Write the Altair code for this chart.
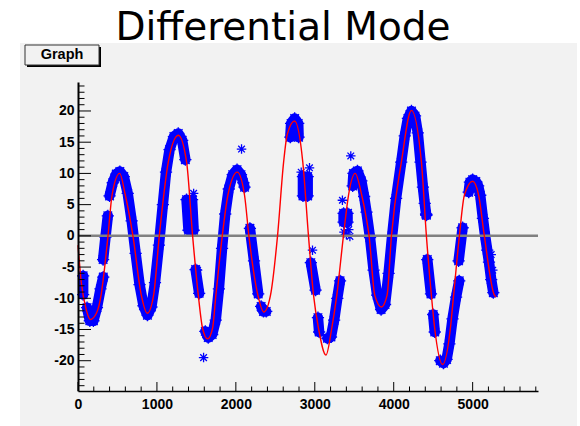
import altair as alt
import pandas as pd

# ---------------- data ----------------
title_text = "Differential Mode"
button_text = "Graph"

x_domain = [0, 5828]
y_domain = [-24.85, 24.64]
x_labels = [0, 1000, 2000, 3000, 4000, 5000]
y_labels = [-20, -15, -10, -5, 0, 5, 10, 15, 20]
x_minor = [200, 400, 600, 800, 1200, 1400, 1600, 1800, 2200, 2400, 2600, 2800,
           3200, 3400, 3600, 3800, 4200, 4400, 4600, 4800, 5200, 5400, 5600, 5800]
y_minor = [-24, -23, -22, -21, -19, -18, -17, -16, -14, -13, -12, -11, -9, -8, -7, -6,
           -4, -3, -2, -1, 1, 2, 3, 4, 6, 7, 8, 9, 11, 12, 13, 14, 16, 17, 18, 19,
           21, 22, 23, 24]

# red fit curve
red_x = [0, 43, 106, 155, 233, 296, 338, 380, 431, 528, 600, 696, 802, 878, 958, 1030,
         1144, 1271, 1376, 1452, 1524, 1578, 1642, 1705, 1747, 1828, 1899, 2018, 2110,
         2165, 2279, 2354, 2439, 2528, 2605, 2650, 2744, 2848, 2920, 2984, 3047, 3142,
         3215, 3279, 3363, 3427, 3511, 3595, 3654, 3688, 3760, 3844, 3916, 3971, 4097,
         4224, 4351, 4414, 4477, 4519, 4620, 4718, 4759, 4832, 4895, 5000, 5076, 5148,
         5275, 5296]
red_y = [-1.5, -7.6, -11.9, -13.4, -12.4, -9.2, -5.0, 0.0, 6.5, 10.0, 6.5, 0.0, -9.5, -12.4,
         -9.5, 0.0, 11.8, 16.1, 11.8, 0.0, -9.5, -14.8, -16.5, -14.8, -9.5, 0.0, 6.5, 10.2,
         6.5, 0.0, -9.5, -12.2, -9.5, 0.0, 11.8, 16.2, 18.4, 11.8, 0.0, -9.5, -14.8, -19.1,
         -14.8, -9.5, 0.0, 6.5, 10.0, 6.5, 2.8, 0.0, -9.5, -11.4, -9.5, 0.0, 11.8, 20.1,
         11.8, 0.0, -9.5, -14.8, -20.6, -14.8, -9.5, 0.0, 6.5, 8.75, 6.5, 0.0, -9.5, -9.8]

# blue measured data: centre line of each dense band of points
blue_seg = ([1] * 2 + [2] * 6 + [3] * 3 + [4] * 21 + [5] * 4 + [6] * 2 + [7] * 13 +
            [8] * 3 + [9] * 3 + [10] * 5 + [11] * 4 + [12] * 2 + [13] * 2 + [14] * 5 +
            [15] * 4 + [16] * 26 + [17] * 2 + [18] * 2 + [19] * 7 + [20] * 2 + [21] * 12)
blue_x = [65, 65,
          115, 150, 195, 240, 285, 320,
          318, 348, 378,
          400, 440, 485, 530, 580, 630, 680, 730, 780, 830, 880, 930, 975, 1025, 1075,
          1115, 1160, 1215, 1270, 1320, 1360,
          1375, 1400, 1465, 1445,
          1490, 1535,
          1613, 1650, 1700, 1745, 1785, 1825, 1865, 1910, 1960, 2015, 2065, 2095, 2110,
          2178, 2230, 2283,
          2320, 2350, 2385,
          2690, 2700, 2745, 2790, 2795,
          2850, 2850, 2910, 2910,
          2950, 3010,
          3040, 3055,
          3160, 3205, 3245, 3285, 3320,
          3365, 3365, 3415, 3415,
          3480, 3490, 3540, 3590, 3625, 3655, 3700, 3745, 3790, 3840, 3890, 3935, 3980,
          4030, 4095, 4140, 4180, 4225, 4270, 4305, 4340, 4370, 4393, 4410, 4412, 4413,
          4425, 4472,
          4500, 4520,
          4590, 4630, 4670, 4705, 4745, 4790, 4830,
          4822, 4873,
          4950, 4965, 5000, 5040, 5070, 5096, 5130, 5158, 5185, 5207, 5235, 5262]
blue_y = [-6.4, -9.4,
          -11.5, -13.6, -13.6, -11.5, -8.5, -6.6,
          -3.8, -0.2, 3.2,
          6.4, 8.5, 9.9, 10.3, 9.5, 6.8, 2.4, -2.8, -7.8, -11.2, -12.7, -11.4, -7.5, -1.5, 5.0,
          10.2, 13.8, 15.9, 16.4, 15.3, 12.2,
          5.8, 0.9, 0.9, 5.8,
          -5.4, -9.2,
          -15.3, -16.3, -15.8, -13.5, -8.5, -2.0, 3.5, 7.5, 9.8, 10.6, 9.8, 8.5, 7.8,
          1.2, -4.0, -9.3,
          -11.3, -12.1, -12.1,
          15.8, 18.0, 18.8, 18.0, 15.8,
          9.5, 6.4, 6.4, 9.5,
          -4.3, -8.7,
          -13.1, -15.4,
          -16.4, -16.2, -13.5, -10.0, -7.2,
          3.6, 2.2, 2.2, 3.6,
          8.0, 10.0, 10.4, 8.8, 6.3, 3.8, -0.3, -5.5, -9.5, -11.8, -11.0, -6.0, 0.0,
          6.0, 11.8, 16.0, 18.8, 20.0, 19.2, 16.5, 11.8, 7.8, 5.2, 3.5, 3.4, 3.3,
          -3.8, -9.3,
          -12.6, -15.4,
          -20.0, -20.4, -19.8, -17.3, -13.3, -9.8, -7.2,
          -4.0, 1.3,
          7.0, 8.6, 9.0, 8.7, 8.0, 6.5, 2.8, 0.0, -2.3, -4.2, -7.0, -9.1]

# isolated outlying points
out_x = [1465, 1515, 1591, 2072, 2828, 2933, 2971, 3350, 3456, 3370, 3400, 3430, 3445,
         5235, 5255]
out_y = [6.8, -5.5, -19.5, 13.9, 10.2, 10.9, -2.3, 5.7, 12.8, 0.6, 0.2, 1.0, -0.1,
         -3.0, -5.5]

# ---------------- tables ----------------
red_df = pd.DataFrame({"x": red_x, "y": red_y, "i": range(len(red_x))})
blue_df = pd.DataFrame({"x": blue_x, "y": blue_y, "seg": blue_seg,
                        "i": range(len(blue_x))})
out_df = pd.DataFrame({"x": out_x, "y": out_y})
xmaj_df = pd.DataFrame({"v": x_labels})
xmin_df = pd.DataFrame({"v": x_minor})
ymaj_df = pd.DataFrame({"v": y_labels})
ymin_df = pd.DataFrame({"v": y_minor})
zero_df = pd.DataFrame({"y": [0]})
one = alt.Data(values=[{"a": 1}])

# ---------------- styling ----------------
W, H = 460, 309
PAD = "#f2f2f2"
LABEL_FONT = "Liberation Sans"
AST = "M-1,0L1,0M0,-1L0,1M-0.7,-0.7L0.7,0.7M-0.7,0.7L0.7,-0.7"

xs = alt.Scale(domain=x_domain, nice=False, zero=False)
ys = alt.Scale(domain=y_domain, nice=False, zero=False)
xaxis = alt.Axis(values=x_labels, title=None, grid=False, ticks=False, tickSize=0,
                 domain=True, domainColor="black", domainWidth=1.5, zindex=2,
                 labelFont=LABEL_FONT, labelFontSize=14, labelFontWeight="bold",
                 labelColor="black", labelPadding=6, labelFlush=False,
                 labelExpr="'' + datum.value")
yaxis = alt.Axis(values=y_labels, title=None, grid=False, ticks=False, tickSize=0,
                 domain=True, domainColor="black", domainWidth=2, zindex=2,
                 labelFont=LABEL_FONT, labelFontSize=14, labelFontWeight="bold",
                 labelColor="black", labelPadding=4,
                 labelExpr="datum.value < 0 ? '-' + abs(datum.value) : '' + datum.value")


def X(f):
    return alt.X(f, type="quantitative", scale=xs, axis=xaxis)


def Y(f):
    return alt.Y(f, type="quantitative", scale=ys, axis=yaxis)


pad = alt.Chart(one).mark_rect(fill=PAD).encode(
    x=alt.value(-58), x2=alt.value(499), y=alt.value(-39), y2=alt.value(344))
title_mark = alt.Chart(one).mark_text(
    text=title_text, font="DejaVu Sans", fontSize=39, fontWeight="normal",
    align="center", baseline="alphabetic", color="black").encode(
    x=alt.value(205), y=alt.value(-42))
shadow = alt.Chart(one).mark_rect(fill="black").encode(
    x=alt.value(-51), x2=alt.value(23), y=alt.value(-35), y2=alt.value(-15))
button = alt.Chart(one).mark_rect(fill=PAD, stroke="#333333", strokeWidth=1).encode(
    x=alt.value(-53), x2=alt.value(21), y=alt.value(-37), y2=alt.value(-17))
button_label = alt.Chart(one).mark_text(
    text=button_text, font=LABEL_FONT, fontWeight="bold", fontSize=14.5,
    align="center", baseline="middle", color="black").encode(
    x=alt.value(-16), y=alt.value(-27))

band = alt.Chart(blue_df).mark_line(
    color="#0000ff", strokeWidth=10.5, strokeCap="round", strokeJoin="round").encode(
    x=X("x"), y=Y("y"), detail="seg:N", order="i:Q")
band_pts = alt.Chart(blue_df).mark_point(
    shape=AST, size=150, color="#0000ff", filled=False, strokeWidth=1.3,
    opacity=1).encode(x=X("x"), y=Y("y"))
outliers = alt.Chart(out_df).mark_point(
    shape=AST, size=90, color="#0000ff", filled=False, strokeWidth=1.3,
    opacity=1).encode(x=X("x"), y=Y("y"))
zero_line = alt.Chart(zero_df).mark_rule(color="#808080", strokeWidth=2.5).encode(
    y=Y("y"), x=alt.value(0), x2=alt.value(W))
red = alt.Chart(red_df).mark_line(
    color="#ff0000", strokeWidth=1.4, interpolate="monotone").encode(
    x=X("x"), y=Y("y"), order="i:Q")

xt_major = alt.Chart(xmaj_df).mark_rule(color="black", strokeWidth=1).encode(
    x=X("v"), y=alt.value(H), y2=alt.value(H - 9))
xt_minor = alt.Chart(xmin_df).mark_rule(color="black", strokeWidth=1).encode(
    x=X("v"), y=alt.value(H), y2=alt.value(H - 4.5))
yt_major = alt.Chart(ymaj_df).mark_rule(color="black", strokeWidth=1).encode(
    y=Y("v"), x=alt.value(0), x2=alt.value(13))
yt_minor = alt.Chart(ymin_df).mark_rule(color="black", strokeWidth=1).encode(
    y=Y("v"), x=alt.value(0), x2=alt.value(6.5))

chart = alt.layer(
    pad, title_mark, shadow, button, button_label,
    band, band_pts, outliers, zero_line, red,
    xt_major, xt_minor, yt_major, yt_minor,
).properties(
    width=W, height=H,
    autosize=alt.AutoSizeParams(type="none"),
    padding={"left": 78, "top": 82, "right": 42, "bottom": 35},
    background="white",
).configure_view(fill=PAD, stroke="black", strokeWidth=1)

chart.save("out.html", embed_options={"renderer": "svg", "actions": False})
